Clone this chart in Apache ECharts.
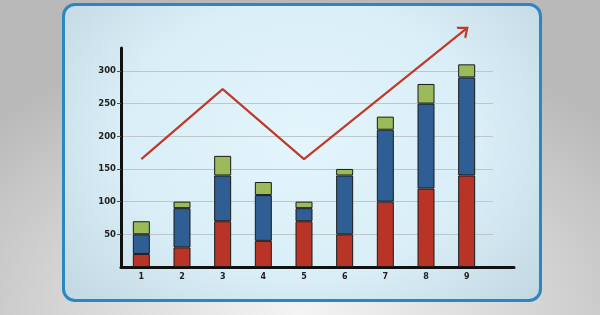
<!DOCTYPE html>
<html><head><meta charset="utf-8">
<script src="https://cdn.jsdelivr.net/npm/echarts@6/dist/echarts.min.js"></script>
<style>
html,body{margin:0;padding:0;width:600px;height:315px;overflow:hidden;}
body{background:radial-gradient(ellipse 70% 90% at 50% 100%, #f4f4f4 0%, #d6d6d6 55%, #b9b9b9 100%);position:relative;}
#card{position:absolute;left:62px;top:3px;width:474px;height:293px;border:3.5px solid #2d86c0;border-radius:13px;
background:radial-gradient(ellipse 75% 95% at 50% 45%, #e4f5fc 0%, #d9eef7 50%, #bcd0db 100%);}
#main{position:absolute;left:0;top:0;width:600px;height:315px;}
</style></head>
<body><div id="card"></div><div id="main"></div>
<script>
var categories = ['1','2','3','4','5','6','7','8','9'];
var redValues   = [20, 30, 70, 40, 70, 50, 100, 120, 140];
var blueValues  = [30, 60, 70, 70, 20, 90, 110, 130, 150];
var greenValues = [20, 10, 30, 20, 10, 10, 20, 30, 20];
var trendValues = [165, null, 272, null, 165, null, null, null, 365];
var yTickMax = 300, yTickStep = 50, yAxisTop = 335;

var chart = echarts.init(document.getElementById('main'), null, {renderer:'canvas'});
var lineColor = '#c0392b';
var trendData = trendValues.map(function(v, i){
  if (i === trendValues.length - 1) {
    return {value: v, symbol: 'path://M0,10 L8,0 L16,10', symbolSize: [13, 8], symbolRotate: -51,
      symbolOffset: [-2.5, 2], itemStyle: {color: 'rgba(0,0,0,0)', borderColor: lineColor, borderWidth: 2}};
  }
  return v;
});
var font = '"DejaVu Sans", sans-serif';
var barBorder = {borderColor: '#1b1b1b', borderWidth: 1};
chart.setOption({
  animation: false,
  backgroundColor: 'transparent',
  grid: [
    {left: 121, top: 48, width: 366, height: 219},
    {left: 121, top: 71, width: 372, height: 196},
    {left: 121, top: 48, width: 393, height: 219}
  ],
  xAxis: [
    {gridIndex: 0, type: 'category', data: categories, axisLine: {show: false}, axisTick: {show: false},
     axisLabel: {color: '#222', fontWeight: 'bold', fontSize: 8, fontFamily: font, margin: 6}},
    {gridIndex: 1, type: 'category', data: categories, show: false},
    {gridIndex: 2, type: 'value', min: 0, max: 1, axisLine: {show: true, lineStyle: {color: '#111', width: 3}},
     axisTick: {show: false}, axisLabel: {show: false}, splitLine: {show: false}}
  ],
  yAxis: [
    {gridIndex: 0, type: 'value', min: 0, max: yAxisTop, axisLine: {show: true, lineStyle: {color: '#111', width: 3}},
     axisTick: {show: false}, axisLabel: {show: false}, splitLine: {show: false}},
    {gridIndex: 1, type: 'value', min: 0, max: yTickMax, interval: yTickStep,
     axisLine: {show: false}, axisTick: {show: true, length: 4, lineStyle: {color: '#555'}},
     axisLabel: {color: '#222', fontWeight: 'bold', fontSize: 8.5, fontFamily: font, margin: 5, showMinLabel: false},
     splitLine: {show: true, lineStyle: {color: '#bcc6cb', width: 1}}},
    {gridIndex: 2, type: 'value', show: false}
  ],
  series: [
    {type: 'bar', xAxisIndex: 0, yAxisIndex: 0, stack: 's', data: redValues, barWidth: 17,
     itemStyle: Object.assign({color: '#b83427'}, barBorder)},
    {type: 'bar', xAxisIndex: 0, yAxisIndex: 0, stack: 's', data: blueValues, barWidth: 17,
     itemStyle: Object.assign({color: '#2f5e95'}, barBorder)},
    {type: 'bar', xAxisIndex: 0, yAxisIndex: 0, stack: 's', data: greenValues, barWidth: 17,
     itemStyle: Object.assign({color: '#9bbb5a'}, barBorder)},
    {type: 'line', xAxisIndex: 0, yAxisIndex: 0, data: trendData, connectNulls: true, clip: false,
     symbol: 'none', showSymbol: true, z: 5,
     lineStyle: {color: lineColor, width: 2.2}}
  ]
});
</script>
</body></html>
